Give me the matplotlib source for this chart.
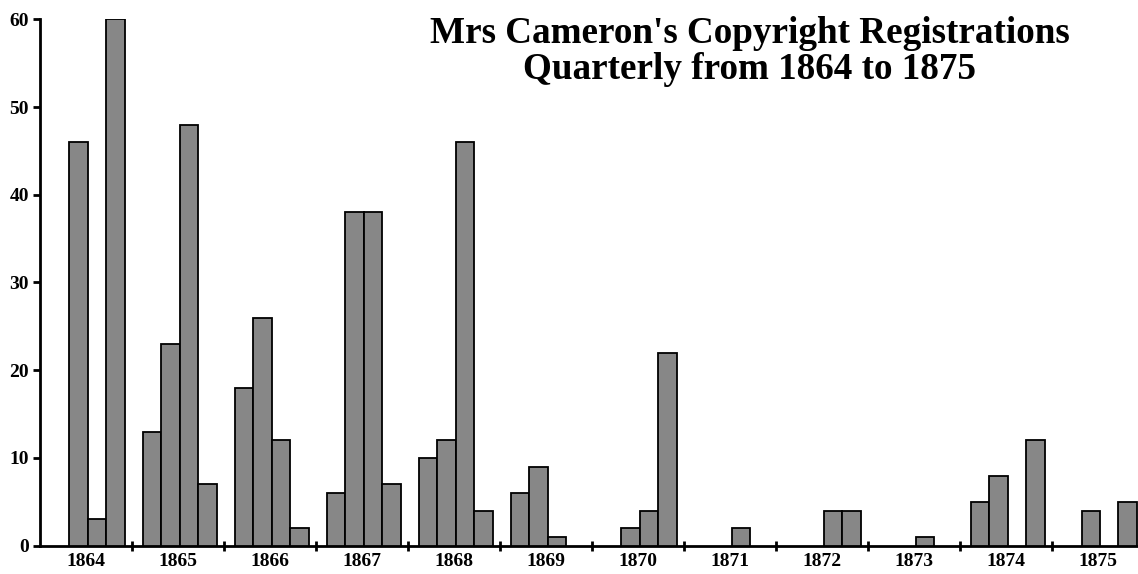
import numpy as np
import matplotlib.pyplot as plt

years = list(range(1864, 1876))
# registrations per quarter, Q1..Q4 for each year
q1 = [0, 13, 18, 6, 10, 6, 0, 0, 0, 0, 5, 0]
q2 = [46, 23, 26, 38, 12, 9, 2, 0, 0, 0, 8, 4]
q3 = [3, 48, 12, 38, 46, 1, 4, 2, 4, 1, 0, 0]
q4 = [60, 7, 2, 7, 4, 0, 22, 0, 4, 0, 12, 5]
yticks = [0, 10, 20, 30, 40, 50, 60]

if __name__ == "__main__":

    plt.rcParams['font.family'] = ['Liberation Serif', 'DejaVu Serif']
    fig = plt.figure(figsize=(11.38, 5.74), dpi=100, facecolor='white')
    ax = fig.add_axes([0.0351, 0.0493, 0.9649, 0.9171])

    slot = 5.0  # one year = 4 quarters + 1 gap
    for q, vals in enumerate([q1, q2, q3, q4]):
        x = np.arange(len(years)) * slot + 0.6 + q
        v = np.array(vals)
        keep = v > 0
        ax.bar(x[keep], v[keep], width=1.0, align='edge',
               color='#878787', edgecolor='black', linewidth=1.3, zorder=3)

    ax.set_xlim(0, 59.67)
    ax.set_ylim(0, 60)
    for s in ['top', 'right']:
        ax.spines[s].set_visible(False)
    for s in ['left', 'bottom']:
        ax.spines[s].set_linewidth(2)
    ax.spines['bottom'].set_clip_on(False)

    ax.set_yticks(yticks)
    ax.set_yticklabels([str(t) for t in yticks], fontsize=14, fontweight='bold')
    ax.tick_params(axis='y', direction='out', length=5, width=2, pad=3)

    bounds = [slot * i for i in range(1, len(years))]
    ax.set_xticks(bounds)
    ax.set_xticklabels([])
    ax.tick_params(axis='x', which='major', direction='inout', length=7, width=2)
    centers = [slot * i + slot / 2 for i in range(len(years))]
    ax.set_xticks(centers, minor=True)
    ax.set_xticklabels([str(y) for y in years], minor=True, fontsize=14, fontweight='bold')
    ax.tick_params(axis='x', which='minor', length=0, pad=5)

    fig.text(0.659, 0.91, "Mrs Cameron's Copyright Registrations\nQuarterly from 1864 to 1875",
             ha='center', va='center', fontsize=26.7, fontweight='bold', linespacing=1.03)

    plt.savefig('out.png', dpi=100)
